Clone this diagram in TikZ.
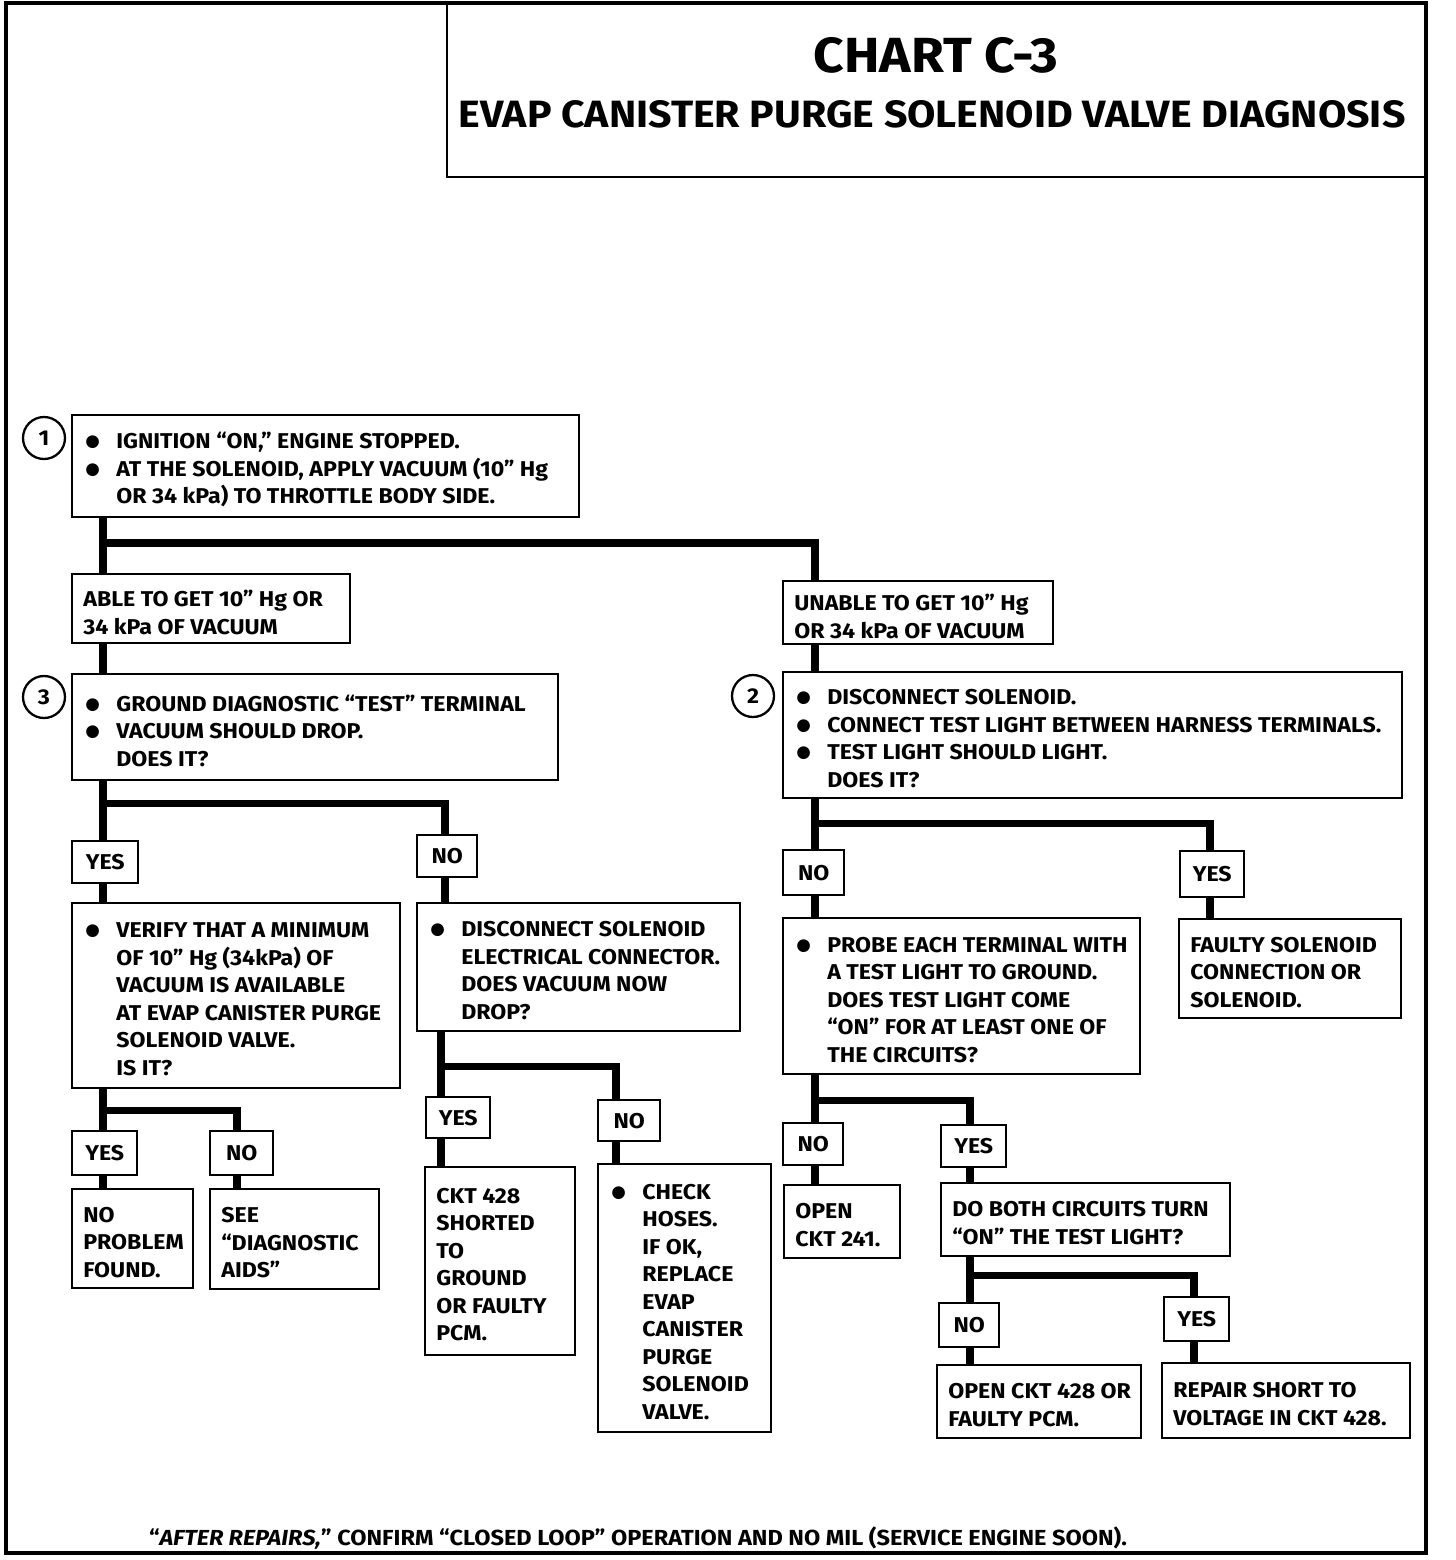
\documentclass[tikz,border=0pt]{standalone}
\usepackage{fontspec}
\setmainfont{Fira Sans}[FakeStretch=1.08]
\newfontfamily\symfont{DejaVu Sans}
\usetikzlibrary{positioning}

% one box of the chart, corners given in pixels of the scan
\newcommand{\chartbox}[6]{%
	\node[box, minimum width={(#4-#2)*0.02cm}, minimum height={(#5-#3)*0.02cm}] (#1) at (#2,#3) {};
	\node[boxtext] (#1-t) at ([xshift=0.24cm, yshift=-0.07cm]#1.west) {#6};
}
\newcommand{\tagbox}[6]{%
	\node[box, minimum width={(#4-#2)*0.02cm}, minimum height={(#5-#3)*0.02cm}, font=\chartfont] (#1) at (#2,#3) {#6};
}
\newcommand{\chartfont}{\fontsize{12.2}{15.65}\bfseries\selectfont}
\newcommand{\bul}{\makebox[0.66cm][l]{\hspace{0.04cm}\raisebox{0.04cm}{\symfont\fontsize{9.5}{9}\selectfont ●}}}
\newcommand{\ind}{\makebox[0.66cm]{}}

\tikzset{
	box/.style={draw, line width=1.4pt, anchor=north west, inner sep=0pt},
	boxtext/.style={anchor=west, align=left, inner sep=0pt, font=\chartfont},
	conn/.style={line width=4pt},
	numcircle/.style={circle, draw, line width=1.3pt, minimum size=0.84cm, inner sep=0pt, font=\chartfont},
}

\begin{document}
\begin{tikzpicture}[x=0.02cm, y=-0.02cm]

	\useasboundingbox (0,0) rectangle (1456,1560);

	% frame and title
	\draw[line width=2.5pt] (6,3) rectangle (1426,1553);
	\draw[line width=1.4pt] (447,3) |- (1426,177);
	\node[font=\fontsize{28.1}{32}\bfseries\selectfont] (title) at (936,55) {CHART C-3};
	\node[font=\fontsize{21.65}{26}\bfseries\selectfont] (subtitle) at (932,114) {EVAP CANISTER PURGE SOLENOID VALVE DIAGNOSIS};

	% step 1
	\node[numcircle] (c1) at (44,438) {1};
	\chartbox{b1}{71}{414}{578}{516}{\bul IGNITION “ON,” ENGINE STOPPED.\\
		\bul AT THE SOLENOID, APPLY VACUUM (10” Hg\\
		\ind OR 34 kPa) TO THROTTLE BODY SIDE.}
	\chartbox{able}{71}{573}{349}{642}{ABLE TO GET 10” Hg OR\\34 kPa OF VACUUM}
	\chartbox{unable}{782}{580}{1052}{643}{UNABLE TO GET 10” Hg\\OR 34 kPa OF VACUUM}

	% step 3
	\node[numcircle] (c3) at (44,697) {3};
	\chartbox{b3}{71}{673}{557}{779}{\bul GROUND DIAGNOSTIC “TEST” TERMINAL\\
		\bul VACUUM SHOULD DROP.\\
		\ind DOES IT?}
	\tagbox{yes3}{71}{840}{137}{882}{YES}
	\tagbox{no3}{416}{834}{476}{876}{NO}
	\chartbox{verify}{71}{902}{399}{1087}{\bul VERIFY THAT A MINIMUM\\
		\ind OF 10” Hg (34kPa) OF\\
		\ind VACUUM IS AVAILABLE\\
		\ind AT EVAP CANISTER PURGE\\
		\ind SOLENOID VALVE.\\
		\ind IS IT?}
	\chartbox{disc}{416}{902}{739}{1030}{\bul DISCONNECT SOLENOID\\
		\ind ELECTRICAL CONNECTOR.\\
		\ind DOES VACUUM NOW\\
		\ind DROP?}
	\tagbox{yesv}{71}{1130}{136}{1174}{YES}
	\tagbox{nov}{209}{1130}{272}{1174}{NO}
	\chartbox{noprob}{71}{1188}{192}{1287}{NO\\PROBLEM\\FOUND.}
	\chartbox{aids}{209}{1188}{378}{1288}{SEE\\“DIAGNOSTIC\\AIDS”}
	\tagbox{yesd}{425}{1096}{489}{1137}{YES}
	\tagbox{nod}{597}{1099}{659}{1140}{NO}
	\chartbox{ckt}{424}{1166}{574}{1354}{CKT 428\\SHORTED\\TO\\GROUND\\OR FAULTY\\PCM.}
	\chartbox{check}{597}{1163}{770}{1431}{\bul CHECK\\
		\ind HOSES.\\
		\ind IF OK,\\
		\ind REPLACE\\
		\ind EVAP\\
		\ind CANISTER\\
		\ind PURGE\\
		\ind SOLENOID\\
		\ind VALVE.}

	% step 2
	\node[numcircle] (c2) at (753,696) {2};
	\chartbox{b2}{782}{671}{1401}{797}{\bul DISCONNECT SOLENOID.\\
		\bul CONNECT TEST LIGHT BETWEEN HARNESS TERMINALS.\\
		\bul TEST LIGHT SHOULD LIGHT.\\
		\ind DOES IT?}
	\tagbox{no2}{782}{849}{843}{894}{NO}
	\tagbox{yes2}{1179}{850}{1243}{896}{YES}
	\chartbox{probe}{782}{917}{1139}{1073}{\bul PROBE EACH TERMINAL WITH\\
		\ind A TEST LIGHT TO GROUND.\\
		\ind DOES TEST LIGHT COME\\
		\ind “ON” FOR AT LEAST ONE OF\\
		\ind THE CIRCUITS?}
	\chartbox{faulty}{1178}{918}{1400}{1017}{FAULTY SOLENOID\\CONNECTION OR\\SOLENOID.}
	\tagbox{nop}{782}{1122}{842}{1164}{NO}
	\tagbox{yesp}{940}{1124}{1005}{1166}{YES}
	\chartbox{open241}{783}{1184}{899}{1257}{OPEN\\CKT 241.}
	\chartbox{both}{940}{1182}{1229}{1255}{DO BOTH CIRCUITS TURN\\“ON” THE TEST LIGHT?}
	\tagbox{nob}{938}{1302}{998}{1346}{NO}
	\tagbox{yesb}{1163}{1296}{1228}{1340}{YES}
	\chartbox{open428}{936}{1364}{1140}{1437}{OPEN CKT 428 OR\\FAULTY PCM.}
	\chartbox{repair}{1161}{1362}{1409}{1437}{REPAIR SHORT TO\\VOLTAGE IN CKT 428.}

	% branch points
	\coordinate (s1) at (103,543);  \coordinate (s1r) at (815,543);
	\coordinate (s3) at (103,803);  \coordinate (s3r) at (445,803);
	\coordinate (sv) at (103,1110); \coordinate (svr) at (237,1110);
	\coordinate (sd) at (441,1066); \coordinate (sdr) at (616,1066);
	\coordinate (s2) at (815,823);  \coordinate (s2r) at (1210,823);
	\coordinate (sp) at (815,1100); \coordinate (spr) at (970,1100);
	\coordinate (sb) at (970,1275); \coordinate (sbr) at (1194,1275);

	% connectors
	\draw[conn] (b1.south -| s1) -- (able.north -| s1);
	\draw[conn] (s1) -- (s1r) -- (unable.north -| s1r);
	\draw[conn] (able.south -| s1) -- (b3.north -| s1);
	\draw[conn] (unable.south -| s1r) -- (b2.north -| s1r);

	\draw[conn] (b3.south -| s3) -- (yes3.north -| s3);
	\draw[conn] (s3) -- (s3r) -- (no3.north -| s3r);
	\draw[conn] (yes3.south -| s3) -- (verify.north -| s3);
	\draw[conn] (no3.south -| s3r) -- (disc.north -| s3r);

	\draw[conn] (verify.south -| sv) -- (yesv.north -| sv);
	\draw[conn] (sv) -- (svr) -- (nov.north -| svr);
	\draw[conn] (yesv.south -| sv) -- (noprob.north -| sv);
	\draw[conn] (nov.south -| svr) -- (aids.north -| svr);

	\draw[conn] (disc.south -| sd) -- (yesd.north -| sd);
	\draw[conn] (sd) -- (sdr) -- (nod.north -| sdr);
	\draw[conn] (yesd.south -| sd) -- (ckt.north -| sd);
	\draw[conn] (nod.south -| sdr) -- (check.north -| sdr);

	\draw[conn] (b2.south -| s2) -- (no2.north -| s2);
	\draw[conn] (s2) -- (s2r) -- (yes2.north -| s2r);
	\draw[conn] (no2.south -| s2) -- (probe.north -| s2);
	\draw[conn] (yes2.south -| s2r) -- (faulty.north -| s2r);

	\draw[conn] (probe.south -| sp) -- (nop.north -| sp);
	\draw[conn] (sp) -- (spr) -- (yesp.north -| spr);
	\draw[conn] (nop.south -| sp) -- (open241.north -| sp);
	\draw[conn] (yesp.south -| spr) -- (both.north -| spr);

	\draw[conn] (both.south -| sb) -- (nob.north -| sb);
	\draw[conn] (sb) -- (sbr) -- (yesb.north -| sbr);
	\draw[conn] (nob.south -| sb) -- (open428.north -| sb);
	\draw[conn] (yesb.south -| sbr) -- (repair.north -| sbr);

	% footnote
	\node[font=\fontsize{12.4}{15}\bfseries\selectfont] (note) at (638,1538) {“\textit{AFTER REPAIRS,}” CONFIRM “CLOSED LOOP” OPERATION AND NO MIL (SERVICE ENGINE SOON).};

\end{tikzpicture}
\end{document}
